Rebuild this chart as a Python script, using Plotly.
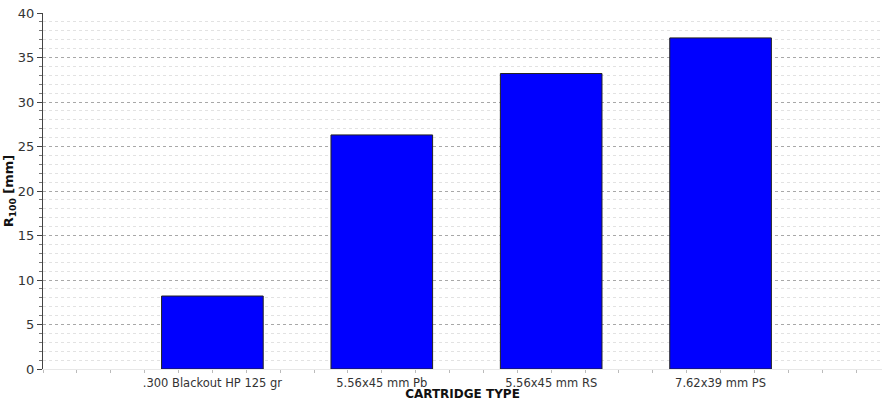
import plotly.graph_objects as go

# Cartridge types and measured R100 values
cartridges = [".300 Blackout HP 125 gr", "5.56x45 mm Pb", "5.56x45 mm RS", "7.62x39 mm PS"]
positions = [1, 2, 3, 4]
r100_mm = [8.2, 26.3, 33.2, 37.2]

fig = go.Figure()
fig.add_trace(go.Bar(
    x=positions,
    y=r100_mm,
    width=0.6,
    marker=dict(color="#0000FF", line=dict(color="#222222", width=1)),
    hoverinfo="skip",
))

font_family = "DejaVu Sans, Verdana, sans-serif"

fig.update_layout(
    width=882,
    height=401,
    margin=dict(l=43, r=0, t=13, b=32),
    paper_bgcolor="white",
    plot_bgcolor="white",
    showlegend=False,
    font=dict(family=font_family, size=12, color="#333333"),
    xaxis=dict(
        range=[0, 4.953],
        tickmode="array",
        tickvals=positions,
        ticktext=cartridges,
        ticks="outside",
        ticklen=3,
        tickcolor="#bbbbbb",
        tickfont=dict(size=11.5, color="#333333"),
        showgrid=False,
        zeroline=False,
        showline=True,
        linecolor="#e8e8e8",
        linewidth=1,
        minor=dict(dtick=0.2, tick0=0, ticks="outside", ticklen=3, tickcolor="#bbbbbb", showgrid=False),
        title=dict(text="<b>CARTRIDGE TYPE</b>", font=dict(size=12, color="#111111"), standoff=0),
        fixedrange=True,
    ),
    yaxis=dict(
        range=[0, 40],
        dtick=5,
        ticks="outside",
        ticklen=5,
        tickcolor="#444444",
        tickfont=dict(size=13, color="#333333"),
        showgrid=True,
        gridcolor="#a8a8a8",
        griddash="dot",
        gridwidth=1,
        zeroline=False,
        showline=True,
        linecolor="#444444",
        linewidth=1,
        minor=dict(dtick=1, ticks="outside", ticklen=3, tickcolor="#777777",
                   showgrid=True, gridcolor="#e2e2e2", griddash="dot", gridwidth=1),
        title=dict(text="<b>R<sub>100</sub> [mm]</b>", font=dict(size=13, color="#111111"), standoff=0),
        fixedrange=True,
    ),
)

fig.write_html("out.html")
